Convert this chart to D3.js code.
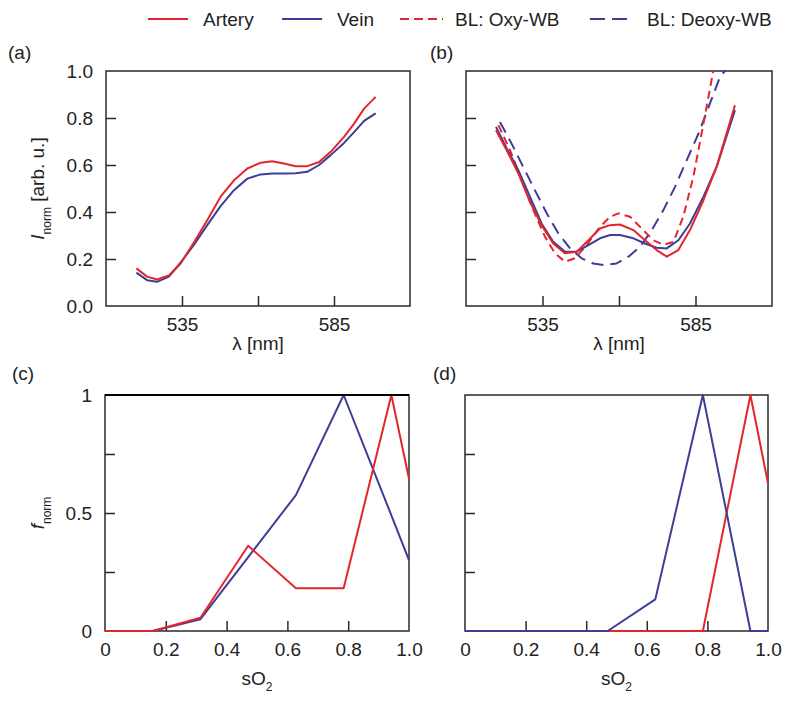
<!DOCTYPE html>
<html><head><meta charset="utf-8">
<script src="https://cdn.jsdelivr.net/npm/d3@7"></script>
<style>body{margin:0;background:#fff}svg{display:block}</style>
</head><body>
<svg id="chart" width="790" height="704"></svg>
<script>
// ---------- DATA ----------
const seriesNames = ["Artery", "Vein", "BL: Oxy-WB", "BL: Deoxy-WB"];

// panel (a)
const lambdaA = [520, 523.5, 526.8, 530.7, 534.5, 538.9, 543.3, 547.7, 552.1, 556.5, 560.9, 564.7, 568.5, 572.4, 576.2, 580.1, 583.9, 588.3, 591.6, 594.9, 598.7];
const arteryA = [0.16, 0.125, 0.113, 0.13, 0.18, 0.27, 0.365, 0.465, 0.535, 0.585, 0.61, 0.616, 0.606, 0.595, 0.595, 0.613, 0.656, 0.72, 0.776, 0.84, 0.89];
const veinA   = [0.142, 0.11, 0.103, 0.125, 0.184, 0.26, 0.344, 0.425, 0.493, 0.542, 0.56, 0.564, 0.564, 0.565, 0.571, 0.6, 0.642, 0.694, 0.74, 0.788, 0.82];

// panel (b)
const lambdaB = [519.8, 523.3, 527.1, 530.9, 534.7, 538.5, 542.4, 546.2, 550.0, 553.8, 557.1, 560.3, 564.7, 568.5, 572.3, 575.6, 579.4, 583.2, 587.6, 591.9, 597.9];
const arteryB = [0.748, 0.663, 0.564, 0.443, 0.344, 0.266, 0.224, 0.231, 0.28, 0.33, 0.344, 0.347, 0.323, 0.28, 0.238, 0.21, 0.238, 0.323, 0.45, 0.592, 0.854];
const veinB   = [0.762, 0.67, 0.578, 0.465, 0.351, 0.273, 0.231, 0.231, 0.259, 0.288, 0.302, 0.302, 0.288, 0.266, 0.248, 0.245, 0.28, 0.351, 0.465, 0.592, 0.833];
const lambdaOxy = [520.6, 524.4, 528.2, 532.0, 535.8, 539.1, 542.4, 545.6, 549.4, 553.8, 557.1, 559.8, 563.6, 567.4, 571.2, 574.5, 577.8, 581.0, 584.3, 587.6, 590.8, 591.9];
const oxyWB     = [0.77, 0.663, 0.535, 0.408, 0.295, 0.224, 0.188, 0.203, 0.259, 0.337, 0.38, 0.394, 0.38, 0.33, 0.28, 0.26, 0.273, 0.38, 0.55, 0.776, 1.0, 1.1];
const lambdaDeoxy = [521.1, 524.9, 528.7, 532.5, 536.4, 540.2, 544.0, 547.8, 551.6, 555.4, 559.2, 563.1, 566.9, 570.7, 574.5, 578.3, 582.1, 586.0, 589.7, 593.0, 594.6, 595.7];
const deoxyWB     = [0.783, 0.691, 0.592, 0.493, 0.394, 0.309, 0.245, 0.203, 0.181, 0.174, 0.181, 0.21, 0.252, 0.323, 0.408, 0.507, 0.62, 0.734, 0.861, 0.975, 1.0, 1.03];

// panels (c), (d)
const sO2Bins = [0, 0.157, 0.314, 0.471, 0.628, 0.785, 0.942, 1.0];
const arteryC = [0, 0, 0.056, 0.361, 0.181, 0.181, 1.0, 0.645];
const veinC   = [0, 0, 0.05, 0.313, 0.576, 1.0, 0.49, 0.30];
const arteryD = [0, 0, 0, 0, 0, 0, 1.0, 0.626];
const veinD   = [0, 0, 0, 0, 0.134, 1.0, 0, 0];

// ticks
const lambdaTicks = [535, 560, 585];
const lambdaTickLabels = ["535", "", "585"];
const intensityTicks = [0, 0.2, 0.4, 0.6, 0.8, 1.0];
const intensityTickLabels = ["0.0", "0.2", "0.4", "0.6", "0.8", "1.0"];
const sO2Ticks = [0, 0.2, 0.4, 0.6, 0.8, 1.0];
const sO2TickLabels = ["0", "0.2", "0.4", "0.6", "0.8", "1.0"];
const fTicks = [0, 0.25, 0.5, 0.75, 1];
const fTickLabels = ["0", "", "0.5", "", "1"];

// ---------- STYLE ----------
const RED = "#e4262c", BLUE = "#3d3e95";
const FONT = "'Liberation Sans', Arial, Helvetica, sans-serif";
const FS = 19;

const svg = d3.select("#chart").style("font-family", FONT);

const panels = {
  a: {x0: 106, x1: 410, y0: 71, y1: 306},
  b: {x0: 466, x1: 772, y0: 71, y1: 306},
  c: {x0: 105, x1: 409, y0: 395, y1: 631},
  d: {x0: 465, x1: 768, y0: 395, y1: 631}
};

function setupPanel(key, xDomain, xTicks, xLabels, yTicks, yLabels, showYLabels) {
  const p = panels[key];
  const x = d3.scaleLinear().domain(xDomain).range([p.x0, p.x1]);
  const y = d3.scaleLinear().domain([0, 1]).range([p.y1, p.y0]);
  const g = svg.append("g");
  g.append("rect").attr("x", p.x0).attr("y", p.y0).attr("width", p.x1 - p.x0).attr("height", p.y1 - p.y0)
    .attr("fill", "none").attr("stroke", "#2a2a2a").attr("stroke-width", 1.5);
  const xa = g.append("g").attr("transform", `translate(0,${p.y1})`)
    .call(d3.axisBottom(x).tickValues(xTicks).tickSizeInner(-10).tickSizeOuter(0).tickPadding(11.5)
      .tickFormat((d, i) => xLabels[i]));
  xa.select(".domain").remove();
  xa.selectAll(".tick line").attr("stroke", "#2a2a2a").attr("stroke-width", 1.5)
    .attr("display", d => (d === xDomain[0] || d === xDomain[1]) ? "none" : null);
  xa.selectAll("text").attr("font-size", FS).attr("font-family", FONT).attr("fill", "#222");
  const ya = g.append("g").attr("transform", `translate(${p.x0},0)`)
    .call(d3.axisLeft(y).tickValues(yTicks).tickSizeInner(-10).tickSizeOuter(0).tickPadding(13)
      .tickFormat((d, i) => showYLabels ? yLabels[i] : ""));
  ya.select(".domain").remove();
  ya.selectAll(".tick line").attr("stroke", "#2a2a2a").attr("stroke-width", 1.5)
    .attr("display", d => (d === 0 || d === 1) ? "none" : null);
  ya.selectAll("text").attr("font-size", FS).attr("font-family", FONT).attr("fill", "#222");
  svg.append("clipPath").attr("id", "clip-" + key).append("rect")
    .attr("x", p.x0 - 1).attr("y", p.y0 - 1).attr("width", p.x1 - p.x0 + 2).attr("height", p.y1 - p.y0 + 2);
  const lines = svg.append("g").attr("clip-path", `url(#clip-${key})`);
  return {x, y, g, lines, p};
}

function drawLine(panel, xs, ys, color, dash) {
  const data = xs.map((v, i) => [v, ys[i]]);
  panel.lines.append("path").datum(data)
    .attr("fill", "none").attr("stroke", color).attr("stroke-width", 2)
    .attr("stroke-linejoin", "round")
    .attr("stroke-dasharray", dash || null)
    .attr("d", d3.line().x(d => panel.x(d[0])).y(d => panel.y(d[1])));
}

const PA = setupPanel("a", [510, 610], lambdaTicks, lambdaTickLabels, intensityTicks, intensityTickLabels, true);
drawLine(PA, lambdaA, veinA, BLUE);
drawLine(PA, lambdaA, arteryA, RED);

const PB = setupPanel("b", [510, 610], lambdaTicks, lambdaTickLabels, intensityTicks, intensityTickLabels, false);
drawLine(PB, lambdaDeoxy, deoxyWB, BLUE, "12,7");
drawLine(PB, lambdaOxy, oxyWB, RED, "8,5");
drawLine(PB, lambdaB, veinB, BLUE);
drawLine(PB, lambdaB, arteryB, RED);

const PC = setupPanel("c", [0, 1], sO2Ticks, sO2TickLabels, fTicks, fTickLabels, true);
drawLine(PC, sO2Bins, veinC, BLUE);
drawLine(PC, sO2Bins, arteryC, RED);
svg.append("line").attr("x1", PC.p.x0).attr("x2", PC.p.x1).attr("y1", PC.p.y0).attr("y2", PC.p.y0)
  .attr("stroke", "#000").attr("stroke-width", 2);

const PD = setupPanel("d", [0, 1], sO2Ticks, sO2TickLabels, fTicks, fTickLabels, false);
drawLine(PD, sO2Bins, arteryD, RED);
drawLine(PD, sO2Bins, veinD, BLUE);

function xLabelLambda(P) {
  svg.append("text").attr("x", (P.p.x0 + P.p.x1) / 2).attr("y", P.p.y1 + 44)
    .attr("text-anchor", "middle").attr("font-size", FS).attr("fill", "#222").text("λ [nm]");
}
xLabelLambda(PA); xLabelLambda(PB);

function xLabelSO2(P) {
  const t = svg.append("text").attr("x", (P.p.x0 + P.p.x1) / 2).attr("y", P.p.y1 + 54)
    .attr("text-anchor", "middle").attr("font-size", FS).attr("fill", "#222");
  t.append("tspan").text("sO");
  t.append("tspan").attr("font-size", 12).attr("dy", 6).text("2");
}
xLabelSO2(PC); xLabelSO2(PD);

const ylA = svg.append("text")
  .attr("transform", `translate(44,${(PA.p.y0 + PA.p.y1) / 2}) rotate(-90)`)
  .attr("text-anchor", "middle").attr("font-size", FS).attr("fill", "#222");
ylA.append("tspan").attr("font-style", "italic").text("I");
ylA.append("tspan").attr("font-size", 12).attr("dy", 7).text("norm");
ylA.append("tspan").attr("dy", -7).text(" [arb. u.]");

const ylC = svg.append("text")
  .attr("transform", `translate(44,${(PC.p.y0 + PC.p.y1) / 2}) rotate(-90)`)
  .attr("text-anchor", "middle").attr("font-size", FS).attr("fill", "#222");
ylC.append("tspan").attr("font-style", "italic").text("f");
ylC.append("tspan").attr("font-size", 12).attr("dy", 7).text("norm");

[["(a)", 8, 59], ["(b)", 430, 59], ["(c)", 12, 380], ["(d)", 433, 380]].forEach(([t, x, y]) => {
  svg.append("text").attr("x", x).attr("y", y).attr("font-size", FS).attr("fill", "#222").text(t);
});

const legendItems = [
  {name: seriesNames[0], color: RED, dash: null, x1: 148, x2: 188, tx: 203},
  {name: seriesNames[1], color: BLUE, dash: null, x1: 282, x2: 322, tx: 337},
  {name: seriesNames[2], color: RED, dash: "9,5", x1: 400, x2: 443, tx: 455},
  {name: seriesNames[3], color: BLUE, dash: "15,7", x1: 590, x2: 630, tx: 647}
];
const lg = svg.append("g");
legendItems.forEach(it => {
  lg.append("line").attr("x1", it.x1).attr("x2", it.x2).attr("y1", 19).attr("y2", 19)
    .attr("stroke", it.color).attr("stroke-width", 2).attr("stroke-dasharray", it.dash);
  lg.append("text").attr("x", it.tx).attr("y", 26).attr("font-size", FS).attr("fill", "#222").text(it.name);
});
</script>
</body></html>
